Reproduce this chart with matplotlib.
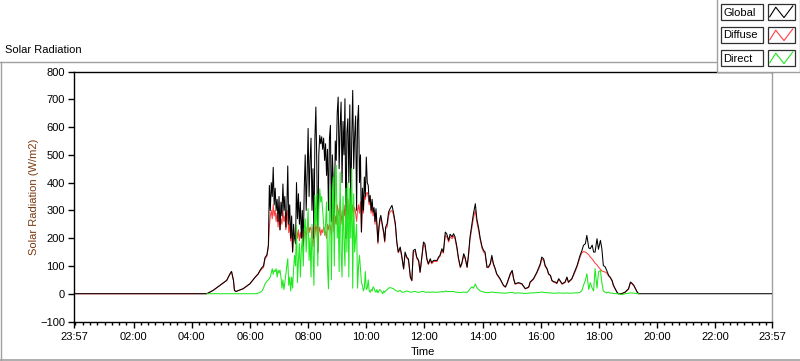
import numpy as np
import matplotlib
matplotlib.use("Agg")
import matplotlib.pyplot as plt
from matplotlib.patches import Rectangle
from matplotlib.lines import Line2D

plt.rcParams['font.family'] = ['Liberation Sans', 'DejaVu Sans']

# ---------------- data (minutes since midnight; None = no sample) ----------------
morning_t = [-3, 271, 284, 298, 312, 319, 322, 326, 328, 331, 346, 360, 371, 377, 381, 385, 388, 391, 395, 398]
morning_global = [0, 0, 12, 30, 48, 72, 80, 48, 12, 8, 18, 36, 60, 72, 85, 95, 100, 130, 140, 174]
morning_diffuse = [0, 0, 12, 30, 48, 72, 80, 48, 12, 8, 18, 36, 60, 70, 82, 90, 95, 125, 135, 170]
morning_direct = [None, 0, 0, 0, 0, 0, 0, 0, 0, 0, 0, 0, 0, 2, 5, 10, 20, 35, 45, 50]

noisy_t = list(range(400, 641, 2))
noisy_global = [
    390, 300, 400, 350, 455, 320, 380, 300, 340, 260,
    350, 230, 330, 280, 395, 300, 350, 240, 300, 460,
    250, 320, 200, 280, 150, 250, 200, 180, 400, 270,
    360, 250, 330, 200, 300, 170, 380, 500, 300, 430,
    595, 350, 480, 560, 300, 450, 200, 560, 672, 450,
    150, 500, 570, 540, 565, 520, 560, 480, 540, 426,
    520, 300, 560, 606, 260, 500, 400, 222, 550, 480,
    650, 708, 450, 600, 690, 400, 620, 500, 702, 200,
    580, 630, 400, 680, 300, 560, 732, 450, 570, 640,
    300, 620, 678, 400, 500, 222, 380, 300, 420, 350,
    492, 400, 390, 330, 354, 300, 340, 294, 310, 260,
    306, 250, 186, 240, 270, 282, 260, 240, 222, 190,
    240]
noisy_diffuse = [
    240, 280, 300, 270, 320, 280, 300, 260, 290, 240,
    280, 230, 270, 250, 300, 260, 280, 230, 250, 300,
    220, 250, 190, 230, 150, 200, 210, 200, 230, 200,
    230, 190, 220, 200, 230, 170, 220, 230, 200, 240,
    250, 220, 240, 230, 200, 240, 170, 210, 250, 230,
    150, 220, 240, 210, 230, 220, 240, 230, 220, 200,
    250, 230, 250, 240, 210, 260, 300, 222, 280, 250,
    320, 300, 280, 330, 290, 250, 300, 280, 320, 200,
    300, 340, 270, 320, 260, 280, 320, 290, 310, 290,
    260, 300, 320, 290, 330, 222, 330, 290, 350, 340,
    360, 365, 350, 320, 340, 290, 320, 280, 300, 250,
    290, 240, 180, 230, 260, 270, 255, 235, 215, 185,
    235]
noisy_direct = [
    55, 60, 75, 90, 70, 85, 80, 90, 60, 85,
    75, 85, 60, 20, 50, 15, 40, 70, 100, 126,
    30, 60, 10, 60, 20, 90, 138, 100, 246, 40,
    120, 180, 60, 160, 200, 100, 230, 270, 150, 230,
    306, 120, 200, 60, 250, 150, 30, 354, 250, 360,
    100, 300, 378, 330, 350, 300, 250, 210, 250, 330,
    100, 18, 300, 390, 50, 300, 420, 100, 426, 462,
    200, 300, 80, 438, 150, 60, 350, 200, 100, 380,
    150, 400, 60, 380, 200, 450, 20, 360, 150, 200,
    250, 20, 100, 138, 90, 40, 30, 10, 20, 80,
    15, 20, 50, 10, 5, 15, 10, 25, 20, 10,
    5, 15, 3, 10, 15, 10, 5, 0, 10, 5,
    10]

afternoon_t = [
    643, 646, 649, 653, 656, 660, 663, 666, 670, 673,
    677, 680, 684, 687, 691, 694, 697, 701, 704, 708,
    711, 715, 718, 721, 725, 728, 732, 735, 739, 746,
    749, 752, 756, 759, 763, 766, 770, 773, 777, 780,
    783, 787, 790, 794, 797, 801, 804, 808, 811, 814,
    818, 821, 825, 828, 832, 835, 839, 842, 845, 849,
    852, 856, 859, 862, 866, 869, 876, 883, 887, 890,
    897, 901, 904, 907, 914, 921, 928, 935, 938, 945,
    952, 959, 962, 966, 969, 973, 976, 980, 983, 986,
    990, 993, 997, 1004, 1010, 1014, 1017, 1024, 1031, 1035,
    1041, 1045, 1048, 1052, 1055, 1059, 1062, 1066, 1069, 1072,
    1076, 1079, 1083, 1086, 1089, 1093, 1096, 1100, 1103, 1107,
    1110, 1117, 1120, 1127, 1134, 1141, 1145, 1148, 1152, 1155,
    1159, 1162, 1437]
afternoon_global = [
    252, 294, 306, 318, 294, 252, 186, 150, 168, 138,
    90, 150, 130, 125, 60, 48, 156, 160, 132, 120,
    78, 140, 186, 180, 126, 108, 126, 112, 120, 120,
    132, 138, 162, 150, 222, 215, 192, 214, 205, 216,
    205, 168, 130, 96, 110, 144, 130, 96, 144, 204,
    252, 288, 324, 270, 234, 200, 168, 156, 150, 96,
    96, 110, 138, 110, 90, 72, 54, 30, 24, 36,
    72, 84, 54, 36, 40, 36, 18, 24, 42, 54,
    78, 108, 132, 125, 102, 90, 72, 66, 48, 44,
    42, 38, 54, 36, 42, 60, 42, 54, 84, 102,
    138, 156, 174, 180, 210, 165, 162, 175, 150, 150,
    198, 160, 192, 162, 102, 96, 84, 66, 60, 48,
    30, 6, 0, 0, 6, 18, 42, 38, 30, 20,
    6, 0, 0]
afternoon_diffuse = [
    240, 280, 295, 300, 285, 245, 182, 148, 160, 135,
    88, 142, 128, 120, 58, 46, 150, 152, 128, 116,
    76, 134, 178, 172, 122, 105, 120, 108, 116, 116,
    128, 134, 155, 146, 210, 205, 186, 205, 198, 208,
    198, 162, 126, 94, 106, 138, 126, 94, 138, 195,
    240, 272, 300, 258, 225, 194, 162, 150, 145, 94,
    94, 106, 132, 106, 88, 70, 52, 30, 24, 34,
    68, 80, 52, 34, 38, 34, 18, 22, 40, 52,
    75, 102, 125, 120, 98, 88, 70, 64, 46, 42,
    40, 36, 52, 34, 40, 57, 40, 52, 80, 98,
    132, 148, 152, 150, 146, 140, 132, 125, 118, 110,
    104, 96, 88, 82, 80, 78, 74, 64, 58, 46,
    28, 6, 0, 0, 5, 16, 40, 36, 28, 18,
    5, 0, None]
afternoon_direct = [
    15, 20, 22, 20, 18, 12, 10, 8, 12, 6,
    5, 8, 10, 8, 6, 5, 8, 8, 6, 5,
    6, 8, 8, 6, 5, 6, 5, 6, 6, 5,
    6, 6, 8, 6, 10, 8, 8, 8, 8, 8,
    6, 5, 5, 4, 5, 6, 5, 5, 10, 18,
    25, 20, 35, 22, 15, 10, 8, 6, 5, 4,
    4, 5, 6, 5, 4, 4, 3, 2, 2, 3,
    4, 5, 3, 2, 3, 2, 1, 2, 3, 3,
    4, 5, 6, 5, 4, 4, 3, 3, 2, 2,
    2, 2, 3, 2, 2, 3, 2, 2, 3, 3,
    5, 12, 30, 48, 72, 15, 40, 20, 10, 90,
    20, 78, 84, 40, 10, 5, 3, 6, 2, 2,
    1, 0, 0, -3, 0, 2, 3, 3, 2, 1,
    0, 0, None]

tick_minutes = [-3, 120, 240, 360, 480, 600, 720, 840, 960, 1080, 1200, 1320, 1437]
tick_labels = ['23:57', '02:00', '04:00', '06:00', '08:00', '10:00', '12:00',
               '14:00', '16:00', '18:00', '20:00', '22:00', '23:57']
y_ticks = [-100, 0, 100, 200, 300, 400, 500, 600, 700, 800]
series_names = ['Global', 'Diffuse', 'Direct']
series_colors = ['#000000', '#ff4040', '#1ee81e']


def as_array(seq):
    return np.array([np.nan if v is None else v for v in seq], dtype=float)


t = as_array(morning_t + noisy_t + afternoon_t)
glob = as_array(morning_global + noisy_global + afternoon_global)
diff = as_array(morning_diffuse + noisy_diffuse + afternoon_diffuse)
dirc = as_array(morning_direct + noisy_direct + afternoon_direct)
assert len(t) == len(glob) == len(diff) == len(dirc), (len(t), len(glob), len(diff), len(dirc))

# ---------------- figure ----------------
W, H = 800, 361
fig = plt.figure(figsize=(W / 100, H / 100), dpi=100)
fig.patch.set_facecolor('white')


def fx(px):
    return px / W


def fy(py):
    return 1 - py / H


LW = 0.75
ax = fig.add_axes([fx(74), fy(321.5), (772 - 74) / W, 250 / H])
ax.plot(t, diff, color=series_colors[1], lw=LW, zorder=2)
ax.plot(t, glob, color=series_colors[0], lw=LW, zorder=3)
ax.plot(t, dirc, color=series_colors[2], lw=LW, zorder=4)

ax.set_xlim(-3, 1437)
ax.set_ylim(-100, 800)
ax.set_yticks(y_ticks)
ax.set_xticks(tick_minutes)
ax.set_xticklabels(tick_labels)
ax.set_xticks(np.arange(0, 1437, 15), minor=True)
ax.tick_params(axis='both', which='major', direction='out', length=4.5, width=1,
               labelsize=8, pad=2, colors='black')
ax.tick_params(axis='x', which='minor', direction='out', length=2.5, width=1, colors='black')
ax.tick_params(axis='x', which='major', pad=3)

for s in ['top', 'left', 'bottom']:
    ax.spines[s].set_color('black')
    ax.spines[s].set_linewidth(1.0)
ax.spines['right'].set_color('#a0a0a0')
ax.spines['right'].set_linewidth(1.0)

ax.set_xlabel('Time', fontsize=8, labelpad=4)
ax.set_ylabel('Solar Radiation (W/m2)', fontsize=8, color='#7a3a12', labelpad=1)

# chart title / frame
fig.text(fx(5), fy(50), 'Solar Radiation', fontsize=8, va='center', ha='left')
frame_col = '#a0a0a0'
fig.add_artist(Line2D([fx(0), fx(717)], [fy(62), fy(62)], color=frame_col, lw=1))
fig.add_artist(Line2D([fx(0.7), fx(0.7)], [fy(62), fy(360)], color=frame_col, lw=1))
fig.add_artist(Line2D([fx(0), fx(800)], [fy(359.5), fy(359.5)], color=frame_col, lw=1.2))

# legend panel
fig.add_artist(Rectangle((fx(717), fy(72)), (800 - 717) / W, 72 / H + 0.01,
                         transform=fig.transFigure, facecolor='white',
                         edgecolor=frame_col, lw=1, zorder=10))
rows = [(4, 20), (27, 43), (50, 66)]
for (ytop, ybot), name, col in zip(rows, series_names, series_colors):
    fig.add_artist(Rectangle((fx(720.5), fy(ybot)), (763 - 720.5) / W, (ybot - ytop) / H,
                             transform=fig.transFigure, facecolor='white',
                             edgecolor='#303030', lw=0.9, zorder=11))
    fig.text(fx(723), fy((ytop + ybot) / 2 + 0.5), name, fontsize=8, va='center',
             ha='left', zorder=12)
    x0, x1 = 767.5, 795
    fig.add_artist(Rectangle((fx(x0), fy(ybot)), (x1 - x0) / W, (ybot - ytop) / H,
                             transform=fig.transFigure, facecolor='white',
                             edgecolor='#303030', lw=0.9, zorder=11))
    fr_x = [0.08, 0.3, 0.6, 0.92]
    fr_y = [0.8, 0.2, 0.85, 0.12]
    xs = [fx(x0 + f * (x1 - x0)) for f in fr_x]
    ys = [fy(ytop + f * (ybot - ytop)) for f in fr_y]
    fig.add_artist(Line2D(xs, ys, color=col, lw=0.8, zorder=12))

fig.savefig('out.png', dpi=100)
